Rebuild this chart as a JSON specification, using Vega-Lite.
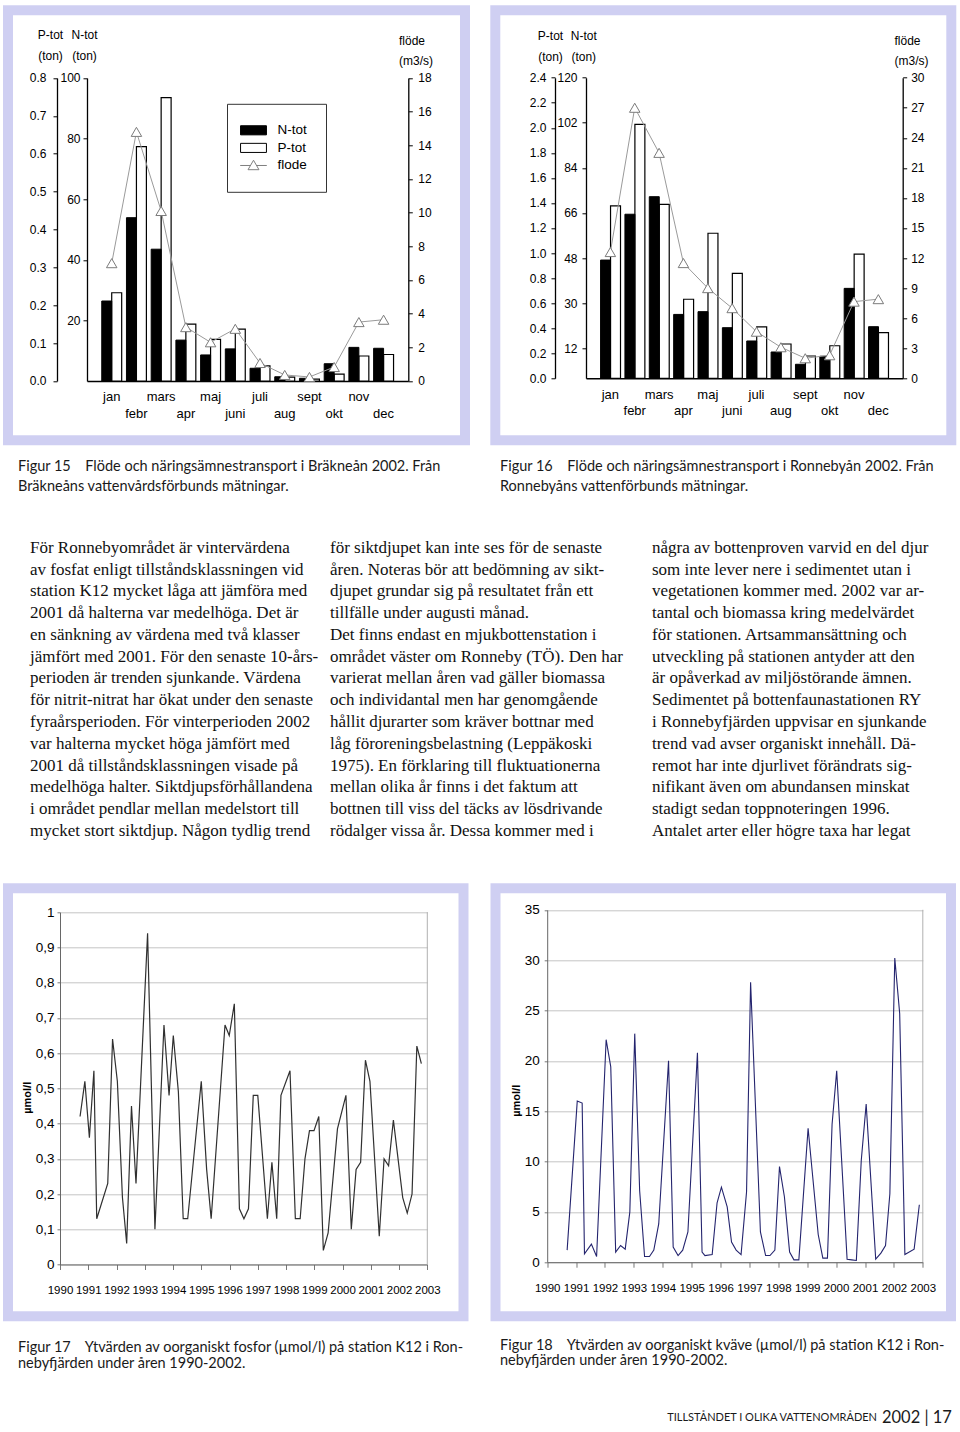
{
  "$schema": "https://vega.github.io/schema/vega-lite/v6.json",
  "padding": {"left": 3, "top": 5.3, "right": 4, "bottom": 4},
  "background": "white",
  "spacing": 0,
  "config": {
    "font": "Liberation Sans",
    "view": {"stroke": null},
    "axis": {"labelFont": "Liberation Sans", "labelFontSize": 12, "labelColor": "black", "domainColor": "black", "tickColor": "black", "domainWidth": 1.3, "tickWidth": 1, "grid": false, "titleFont": "Liberation Sans", "titleColor": "black", "titleFontWeight": "normal", "titleFontSize": 12, "labelOverlap": false}
  },
  "datasets": {
    "f15bars": [
      {"month": "jan", "series": "N-tot", "value": 26.4}, {"month": "jan", "series": "P-tot", "value": 0.233},
      {"month": "febr", "series": "N-tot", "value": 53.9}, {"month": "febr", "series": "P-tot", "value": 0.619},
      {"month": "mars", "series": "N-tot", "value": 43.5}, {"month": "mars", "series": "P-tot", "value": 0.748},
      {"month": "apr", "series": "N-tot", "value": 13.5}, {"month": "apr", "series": "P-tot", "value": 0.15},
      {"month": "maj", "series": "N-tot", "value": 8.6}, {"month": "maj", "series": "P-tot", "value": 0.11},
      {"month": "juni", "series": "N-tot", "value": 10.6}, {"month": "juni", "series": "P-tot", "value": 0.137},
      {"month": "juli", "series": "N-tot", "value": 4.2}, {"month": "juli", "series": "P-tot", "value": 0.04},
      {"month": "aug", "series": "N-tot", "value": 1.4}, {"month": "aug", "series": "P-tot", "value": 0.01},
      {"month": "sept", "series": "N-tot", "value": 0.9}, {"month": "sept", "series": "P-tot", "value": 0.005},
      {"month": "okt", "series": "N-tot", "value": 5.7}, {"month": "okt", "series": "P-tot", "value": 0.018},
      {"month": "nov", "series": "N-tot", "value": 11.1}, {"month": "nov", "series": "P-tot", "value": 0.066},
      {"month": "dec", "series": "N-tot", "value": 10.8}, {"month": "dec", "series": "P-tot", "value": 0.07}
    ],
    "f15flow": [
      {"month": "jan", "flode": 7.0}, {"month": "febr", "flode": 14.8}, {"month": "mars", "flode": 10.1},
      {"month": "apr", "flode": 3.2}, {"month": "maj", "flode": 2.3}, {"month": "juni", "flode": 3.1},
      {"month": "juli", "flode": 1.07}, {"month": "aug", "flode": 0.36}, {"month": "sept", "flode": 0.24},
      {"month": "okt", "flode": 0.83}, {"month": "nov", "flode": 3.5}, {"month": "dec", "flode": 3.64}
    ],
    "f16bars": [
      {"month": "jan", "series": "N-tot", "value": 47.2}, {"month": "jan", "series": "P-tot", "value": 1.376},
      {"month": "febr", "series": "N-tot", "value": 65.5}, {"month": "febr", "series": "P-tot", "value": 2.028},
      {"month": "mars", "series": "N-tot", "value": 72.5}, {"month": "mars", "series": "P-tot", "value": 1.389},
      {"month": "apr", "series": "N-tot", "value": 25.5}, {"month": "apr", "series": "P-tot", "value": 0.631},
      {"month": "maj", "series": "N-tot", "value": 26.6}, {"month": "maj", "series": "P-tot", "value": 1.158},
      {"month": "juni", "series": "N-tot", "value": 20.2}, {"month": "juni", "series": "P-tot", "value": 0.838},
      {"month": "juli", "series": "N-tot", "value": 14.9}, {"month": "juli", "series": "P-tot", "value": 0.41},
      {"month": "aug", "series": "N-tot", "value": 10.5}, {"month": "aug", "series": "P-tot", "value": 0.274},
      {"month": "sept", "series": "N-tot", "value": 5.6}, {"month": "sept", "series": "P-tot", "value": 0.178},
      {"month": "okt", "series": "N-tot", "value": 8.8}, {"month": "okt", "series": "P-tot", "value": 0.26},
      {"month": "nov", "series": "N-tot", "value": 35.9}, {"month": "nov", "series": "P-tot", "value": 0.992},
      {"month": "dec", "series": "N-tot", "value": 20.6}, {"month": "dec", "series": "P-tot", "value": 0.364}
    ],
    "f16flow": [
      {"month": "jan", "flode": 12.6}, {"month": "febr", "flode": 27.0}, {"month": "mars", "flode": 22.5},
      {"month": "apr", "flode": 11.5}, {"month": "maj", "flode": 9.0}, {"month": "juni", "flode": 7.0},
      {"month": "juli", "flode": 4.65}, {"month": "aug", "flode": 3.1}, {"month": "sept", "flode": 2.0},
      {"month": "okt", "flode": 2.3}, {"month": "nov", "flode": 7.65}, {"month": "dec", "flode": 7.9}
    ],
    "legendkeys": [{"series": "N-tot"}, {"series": "P-tot"}, {"series": "flode"}],
    "k12p": [
      {"t": 1990.71, "v": 0.42}, {"t": 1990.88, "v": 0.52}, {"t": 1991.04, "v": 0.36}, {"t": 1991.2, "v": 0.55},
      {"t": 1991.3, "v": 0.13}, {"t": 1991.69, "v": 0.23}, {"t": 1991.86, "v": 0.64}, {"t": 1992.03, "v": 0.52},
      {"t": 1992.21, "v": 0.19}, {"t": 1992.36, "v": 0.06}, {"t": 1992.53, "v": 0.45}, {"t": 1992.69, "v": 0.23},
      {"t": 1993.1, "v": 0.94}, {"t": 1993.36, "v": 0.1}, {"t": 1993.68, "v": 0.68}, {"t": 1993.86, "v": 0.48},
      {"t": 1994.01, "v": 0.65}, {"t": 1994.19, "v": 0.49}, {"t": 1994.36, "v": 0.13}, {"t": 1994.52, "v": 0.13},
      {"t": 1995.0, "v": 0.52}, {"t": 1995.19, "v": 0.27}, {"t": 1995.35, "v": 0.13}, {"t": 1995.84, "v": 0.68},
      {"t": 1995.99, "v": 0.65}, {"t": 1996.17, "v": 0.74}, {"t": 1996.35, "v": 0.158}, {"t": 1996.51, "v": 0.13},
      {"t": 1996.67, "v": 0.158}, {"t": 1996.84, "v": 0.48}, {"t": 1997.0, "v": 0.48}, {"t": 1997.34, "v": 0.13},
      {"t": 1997.5, "v": 0.29}, {"t": 1997.67, "v": 0.13}, {"t": 1997.82, "v": 0.48}, {"t": 1998.14, "v": 0.55},
      {"t": 1998.33, "v": 0.13}, {"t": 1998.5, "v": 0.13}, {"t": 1998.67, "v": 0.3}, {"t": 1998.83, "v": 0.38},
      {"t": 1998.99, "v": 0.38}, {"t": 1999.16, "v": 0.42}, {"t": 1999.32, "v": 0.04}, {"t": 1999.49, "v": 0.09},
      {"t": 1999.82, "v": 0.385}, {"t": 2000.12, "v": 0.48}, {"t": 2000.31, "v": 0.1}, {"t": 2000.48, "v": 0.27},
      {"t": 2000.64, "v": 0.29}, {"t": 2000.81, "v": 0.58}, {"t": 2000.97, "v": 0.52}, {"t": 2001.3, "v": 0.08},
      {"t": 2001.47, "v": 0.3}, {"t": 2001.63, "v": 0.28}, {"t": 2001.8, "v": 0.41}, {"t": 2002.13, "v": 0.19},
      {"t": 2002.29, "v": 0.146}, {"t": 2002.46, "v": 0.2}, {"t": 2002.63, "v": 0.62}, {"t": 2002.79, "v": 0.57}
    ],
    "k12n": [
      {"t": 1990.69, "v": 1.2}, {"t": 1991.04, "v": 16.0}, {"t": 1991.21, "v": 15.8}, {"t": 1991.29, "v": 0.83},
      {"t": 1991.53, "v": 1.8}, {"t": 1991.71, "v": 0.56}, {"t": 1992.04, "v": 22.1}, {"t": 1992.2, "v": 19.4},
      {"t": 1992.37, "v": 1.0}, {"t": 1992.54, "v": 1.66}, {"t": 1992.7, "v": 1.3}, {"t": 1992.86, "v": 5.0},
      {"t": 1993.03, "v": 22.7}, {"t": 1993.2, "v": 7.1}, {"t": 1993.37, "v": 0.56}, {"t": 1993.54, "v": 0.56},
      {"t": 1993.69, "v": 1.2}, {"t": 1993.86, "v": 3.8}, {"t": 1994.2, "v": 20.0}, {"t": 1994.36, "v": 1.5},
      {"t": 1994.53, "v": 0.66}, {"t": 1994.69, "v": 1.2}, {"t": 1994.87, "v": 3.0}, {"t": 1995.2, "v": 20.8},
      {"t": 1995.36, "v": 1.0}, {"t": 1995.46, "v": 0.66}, {"t": 1995.71, "v": 0.76}, {"t": 1995.88, "v": 5.9},
      {"t": 1996.03, "v": 7.45}, {"t": 1996.23, "v": 5.5}, {"t": 1996.38, "v": 2.0}, {"t": 1996.54, "v": 1.2},
      {"t": 1996.71, "v": 0.76}, {"t": 1996.9, "v": 7.0}, {"t": 1997.04, "v": 27.8}, {"t": 1997.38, "v": 3.0},
      {"t": 1997.56, "v": 0.66}, {"t": 1997.71, "v": 0.66}, {"t": 1997.88, "v": 1.2}, {"t": 1998.04, "v": 9.5},
      {"t": 1998.21, "v": 6.5}, {"t": 1998.39, "v": 1.0}, {"t": 1998.54, "v": 0.23}, {"t": 1998.71, "v": 0.23},
      {"t": 1999.03, "v": 13.3}, {"t": 1999.38, "v": 2.75}, {"t": 1999.54, "v": 0.4}, {"t": 1999.7, "v": 0.4},
      {"t": 1999.86, "v": 13.7}, {"t": 2000.02, "v": 19.0}, {"t": 2000.38, "v": 0.3}, {"t": 2000.54, "v": 0.23},
      {"t": 2000.7, "v": 0.17}, {"t": 2000.87, "v": 10.1}, {"t": 2001.04, "v": 15.7}, {"t": 2001.37, "v": 0.3},
      {"t": 2001.55, "v": 0.9}, {"t": 2001.71, "v": 1.66}, {"t": 2001.86, "v": 6.8}, {"t": 2002.03, "v": 30.2},
      {"t": 2002.2, "v": 24.7}, {"t": 2002.38, "v": 0.76}, {"t": 2002.7, "v": 1.3}, {"t": 2002.88, "v": 5.7}
    ],
    "cap15": [
      {"line": 1, "t": "Figur 15\u2003 Flöde och näringsämnestransport i Bräkneån 2002. Från"},
      {"line": 2, "t": "Bräkneåns vattenvårdsförbunds mätningar."}
    ],
    "cap16": [
      {"line": 1, "t": "Figur 16\u2003 Flöde och näringsämnestransport i Ronnebyån 2002. Från"},
      {"line": 2, "t": "Ronnebyåns vattenförbunds mätningar."}
    ],
    "cap17": [
      {"line": 1, "t": "Figur 17\u2003 Ytvärden av oorganiskt fosfor (µmol/l) på station K12 i Ron-"},
      {"line": 2, "t": "nebyfjärden under åren 1990-2002."}
    ],
    "cap18": [
      {"line": 1, "t": "Figur 18\u2003 Ytvärden av oorganiskt kväve (µmol/l) på station K12 i Ron-"},
      {"line": 2, "t": "nebyfjärden under åren 1990-2002."}
    ],
    "body1": [
      {"line": 1, "t": "För Ronnebyområdet är vintervärdena"},
      {"line": 2, "t": "av fosfat enligt tillståndsklassningen vid"},
      {"line": 3, "t": "station K12 mycket låga att jämföra med"},
      {"line": 4, "t": "2001 då halterna var medelhöga. Det är"},
      {"line": 5, "t": "en sänkning av värdena med två klasser"},
      {"line": 6, "t": "jämfört med 2001. För den senaste 10-års-"},
      {"line": 7, "t": "perioden är trenden sjunkande. Värdena"},
      {"line": 8, "t": "för nitrit-nitrat har ökat under den senaste"},
      {"line": 9, "t": "fyraårsperioden. För vinterperioden 2002"},
      {"line": 10, "t": "var halterna mycket höga jämfört med"},
      {"line": 11, "t": "2001 då tillståndsklassningen visade på"},
      {"line": 12, "t": "medelhöga halter. Siktdjupsförhållandena"},
      {"line": 13, "t": "i området pendlar mellan medelstort till"},
      {"line": 14, "t": "mycket stort siktdjup. Någon tydlig trend"}
    ],
    "body2": [
      {"line": 1, "t": "för siktdjupet kan inte ses för de senaste"},
      {"line": 2, "t": "åren. Noteras bör att bedömning av sikt-"},
      {"line": 3, "t": "djupet grundar sig på resultatet från ett"},
      {"line": 4, "t": "tillfälle under augusti månad."},
      {"line": 5, "t": "\u2003Det finns endast en mjukbottenstation i"},
      {"line": 6, "t": "området väster om Ronneby (TÖ). Den har"},
      {"line": 7, "t": "varierat mellan åren vad gäller biomassa"},
      {"line": 8, "t": "och individantal men har genomgående"},
      {"line": 9, "t": "hållit djurarter som kräver bottnar med"},
      {"line": 10, "t": "låg föroreningsbelastning (Leppäkoski"},
      {"line": 11, "t": "1975). En förklaring till fluktuationerna"},
      {"line": 12, "t": "mellan olika år finns i det faktum att"},
      {"line": 13, "t": "bottnen till viss del täcks av lösdrivande"},
      {"line": 14, "t": "rödalger vissa år. Dessa kommer med i"}
    ],
    "body3": [
      {"line": 1, "t": "några av bottenproven varvid en del djur"},
      {"line": 2, "t": "som inte lever nere i sedimentet utan i"},
      {"line": 3, "t": "vegetationen kommer med. 2002 var ar-"},
      {"line": 4, "t": "tantal och biomassa kring medelvärdet"},
      {"line": 5, "t": "för stationen. Artsammansättning och"},
      {"line": 6, "t": "utveckling på stationen antyder att den"},
      {"line": 7, "t": "är opåverkad av miljöstörande ämnen."},
      {"line": 8, "t": "\u2003Sedimentet på bottenfaunastationen RY"},
      {"line": 9, "t": "i Ronnebyfjärden uppvisar en sjunkande"},
      {"line": 10, "t": "trend vad avser organiskt innehåll. Dä-"},
      {"line": 11, "t": "remot har inte djurlivet förändrats sig-"},
      {"line": 12, "t": "nifikant även om abundansen minskat"},
      {"line": 13, "t": "stadigt sedan toppnoteringen 1996."},
      {"line": 14, "t": "Antalet arter eller högre taxa har legat"}
    ]
  },
  "vconcat": [
    {
      "hconcat": [
        {
          "width": 457, "height": 430,
          "view": {"fill": "white", "stroke": "#cfcff2", "strokeWidth": 10},
          "encoding": {
            "x": {"field": "month", "type": "nominal",
              "scale": {"type": "band", "domain": ["jan","febr","mars","apr","maj","juni","juli","aug","sept","okt","nov","dec"], "range": [79, 400.3], "paddingInner": 0, "paddingOuter": 0.5},
              "axis": {"orient": "bottom", "offset": -59.3, "ticks": false, "labelAngle": 0, "labelFontSize": 13, "labelPadding": 10, "labelBaseline": "top", "labelLineHeight": 16.6, "domainWidth": 1.5, "title": null, "labelOverlap": false,
                "labelExpr": "indexof(['febr','apr','juni','aug','okt','dec'], datum.value) >= 0 ? ['', datum.value] : datum.value"}}
          },
          "layer": [
            {
              "data": {"name": "f15bars"},
              "transform": [{"filter": "datum.series == 'P-tot'"}],
              "mark": {"type": "bar", "fill": "white", "stroke": "black", "strokeWidth": 1.2},
              "encoding": {
                "xOffset": {"field": "series", "type": "nominal", "scale": {"domain": ["N-tot", "P-tot"], "paddingInner": 0, "paddingOuter": 0.24}},
                "y": {"field": "value", "type": "quantitative", "scale": {"domain": [0, 0.8], "range": [370.7, 67.7], "nice": false, "zero": false},
                  "axis": {"orient": "left", "offset": -49, "values": [0, 0.1, 0.2, 0.3, 0.4, 0.5, 0.6, 0.7, 0.8], "format": ".1f", "tickSize": 4, "labelPadding": 7, "labelOverlap": false,
                    "title": ["P-tot", "(ton)"], "titleAngle": 0, "titleAlign": "center", "titleBaseline": "top", "titleLineHeight": 21, "titleX": -7, "titleY": 19.5}}
              }
            },
            {
              "data": {"name": "f15bars"},
              "transform": [{"filter": "datum.series == 'N-tot'"}],
              "mark": {"type": "bar", "fill": "black", "stroke": "black", "strokeWidth": 1},
              "encoding": {
                "xOffset": {"field": "series", "type": "nominal", "scale": {"domain": ["N-tot", "P-tot"], "paddingInner": 0, "paddingOuter": 0.24}},
                "y": {"field": "value", "type": "quantitative", "scale": {"domain": [0, 100], "range": [370.7, 67.7], "nice": false, "zero": false},
                  "axis": {"orient": "left", "offset": -79, "values": [20, 40, 60, 80, 100], "format": "d", "tickSize": 4, "labelPadding": 3, "labelOverlap": false,
                    "title": ["N-tot", "(ton)"], "titleAngle": 0, "titleAlign": "center", "titleBaseline": "top", "titleLineHeight": 21, "titleX": -3, "titleY": 19.5}}
              }
            },
            {
              "data": {"name": "f15flow"},
              "layer": [
                {
                  "mark": {"type": "line", "stroke": "#9a9a9a", "strokeWidth": 1},
                  "encoding": {
                    "y": {"field": "flode", "type": "quantitative", "scale": {"domain": [0, 18], "range": [370.7, 67.7], "nice": false, "zero": false},
                      "axis": {"orient": "right", "offset": -56.7, "values": [0, 2, 4, 6, 8, 10, 12, 14, 16, 18], "format": "d", "tickSize": 4, "labelPadding": 5.5, "labelOverlap": false,
                        "title": ["flöde", "(m3/s)"], "titleAngle": 0, "titleAlign": "left", "titleBaseline": "top", "titleLineHeight": 20, "titleX": -9.8, "titleY": 25.5}}
                  }
                },
                {
                  "mark": {"type": "point", "shape": "triangle-up", "size": 110, "filled": true, "fill": "white", "stroke": "#7a7a7a", "strokeWidth": 1, "opacity": 1},
                  "encoding": {"y": {"field": "flode", "type": "quantitative"}}
                }
              ]
            },
            {
              "data": {"name": "legendkeys"},
              "transform": [{"filter": "false"}],
              "mark": {"type": "point", "filled": true},
              "encoding": {
                "shape": {"field": "series", "type": "nominal", "scale": {"domain": ["N-tot", "P-tot", "flode"], "range": ["M-1.85,-0.65H1.85V0.65H-1.85Z", "M-1.85,-0.65H1.85V0.65H-1.85Z", "M-1.9,0H-0.43M0.43,0H1.9M0,-0.75L0.78,0.6H-0.78Z"]},
                  "legend": {"title": null, "orient": "none", "legendX": 219, "legendY": 93.5, "direction": "vertical", "strokeColor": "#333", "fillColor": "white", "padding": 19, "rowPadding": 2.6, "symbolSize": 196, "symbolStrokeWidth": 1, "symbolOpacity": 1, "labelFont": "Liberation Sans", "labelFontSize": 13.5, "labelColor": "black", "labelOffset": 16.5}},
                "fill": {"field": "series", "type": "nominal", "scale": {"domain": ["N-tot", "P-tot", "flode"], "range": ["black", "white", "white"]},
                  "legend": {"title": null, "orient": "none", "legendX": 219, "legendY": 93.5, "direction": "vertical", "strokeColor": "#333", "fillColor": "white", "padding": 19, "rowPadding": 2.6, "symbolSize": 196, "symbolStrokeWidth": 1, "symbolOpacity": 1, "labelFont": "Liberation Sans", "labelFontSize": 13.5, "labelColor": "black", "labelOffset": 16.5}},
                "stroke": {"field": "series", "type": "nominal", "scale": {"domain": ["N-tot", "P-tot", "flode"], "range": ["black", "black", "#808080"]},
                  "legend": {"title": null, "orient": "none", "legendX": 219, "legendY": 93.5, "direction": "vertical", "strokeColor": "#333", "fillColor": "white", "padding": 19, "rowPadding": 2.6, "symbolSize": 196, "symbolStrokeWidth": 1, "symbolOpacity": 1, "labelFont": "Liberation Sans", "labelFontSize": 13.5, "labelColor": "black", "labelOffset": 16.5}}
              }
            }
          ],
          "resolve": {"scale": {"y": "independent"}}
        },
        {
          "width": 456, "height": 430,
          "view": {"fill": "white", "stroke": "#cfcff2", "strokeWidth": 10},
          "encoding": {
            "x": {"field": "month", "type": "nominal",
              "scale": {"type": "band", "domain": ["jan","febr","mars","apr","maj","juni","juli","aug","sept","okt","nov","dec"], "range": [90.7, 407.4], "paddingInner": 0, "paddingOuter": 0.5},
              "axis": {"orient": "bottom", "offset": -62, "ticks": false, "labelAngle": 0, "labelFontSize": 13, "labelPadding": 10, "labelBaseline": "top", "labelLineHeight": 16.6, "domainWidth": 1.5, "title": null, "labelOverlap": false,
                "labelExpr": "indexof(['febr','apr','juni','aug','okt','dec'], datum.value) >= 0 ? ['', datum.value] : datum.value"}}
          },
          "layer": [
            {
              "data": {"name": "f16bars"},
              "transform": [{"filter": "datum.series == 'P-tot'"}],
              "mark": {"type": "bar", "fill": "white", "stroke": "black", "strokeWidth": 1.2},
              "encoding": {
                "xOffset": {"field": "series", "type": "nominal", "scale": {"domain": ["N-tot", "P-tot"], "paddingInner": 0, "paddingOuter": 0.24}},
                "y": {"field": "value", "type": "quantitative", "scale": {"domain": [0, 2.4], "range": [368, 67.4], "nice": false, "zero": false},
                  "axis": {"orient": "left", "offset": -59.7, "values": [0, 0.2, 0.4, 0.6, 0.8, 1, 1.2, 1.4, 1.6, 1.8, 2, 2.2, 2.4], "format": ".1f", "tickSize": 4, "labelPadding": 5, "labelOverlap": false,
                    "title": ["P-tot", "(ton)"], "titleAngle": 0, "titleAlign": "center", "titleBaseline": "top", "titleLineHeight": 21, "titleX": -5, "titleY": 20.2}}
              }
            },
            {
              "data": {"name": "f16bars"},
              "transform": [{"filter": "datum.series == 'N-tot'"}],
              "mark": {"type": "bar", "fill": "black", "stroke": "black", "strokeWidth": 1},
              "encoding": {
                "xOffset": {"field": "series", "type": "nominal", "scale": {"domain": ["N-tot", "P-tot"], "paddingInner": 0, "paddingOuter": 0.24}},
                "y": {"field": "value", "type": "quantitative", "scale": {"domain": [0, 120], "range": [368, 67.4], "nice": false, "zero": false},
                  "axis": {"orient": "left", "offset": -90.7, "values": [12, 30, 48, 66, 84, 102, 120], "format": "d", "tickSize": 4, "labelPadding": 5, "labelOverlap": false,
                    "title": ["N-tot", "(ton)"], "titleAngle": 0, "titleAlign": "center", "titleBaseline": "top", "titleLineHeight": 21, "titleX": -2.7, "titleY": 20.2}}
              }
            },
            {
              "data": {"name": "f16flow"},
              "layer": [
                {
                  "mark": {"type": "line", "stroke": "#9a9a9a", "strokeWidth": 1},
                  "encoding": {
                    "y": {"field": "flode", "type": "quantitative", "scale": {"domain": [0, 30], "range": [368, 67.4], "nice": false, "zero": false},
                      "axis": {"orient": "right", "offset": -48.6, "values": [0, 3, 6, 9, 12, 15, 18, 21, 24, 27, 30], "format": "d", "tickSize": 4, "labelPadding": 4, "labelOverlap": false,
                        "title": ["flöde", "(m3/s)"], "titleAngle": 0, "titleAlign": "left", "titleBaseline": "top", "titleLineHeight": 20, "titleX": -8.7, "titleY": 25.2}}
                  }
                },
                {
                  "mark": {"type": "point", "shape": "triangle-up", "size": 110, "filled": true, "fill": "white", "stroke": "#7a7a7a", "strokeWidth": 1, "opacity": 1},
                  "encoding": {"y": {"field": "flode", "type": "quantitative"}}
                }
              ]
            },
            {
              "data": {"name": "legendkeys"},
              "transform": [{"filter": "false"}],
              "mark": {"type": "point", "filled": true},
              "encoding": {
                "shape": {"field": "series", "type": "nominal", "scale": {"domain": ["N-tot", "P-tot", "flode"], "range": ["M-1.85,-0.65H1.85V0.65H-1.85Z", "M-1.85,-0.65H1.85V0.65H-1.85Z", "M-1.9,0H-0.43M0.43,0H1.9M0,-0.75L0.78,0.6H-0.78Z"]},
                  "legend": {"title": null, "orient": "none", "legendX": 231.7, "legendY": 82, "direction": "vertical", "strokeColor": "#333", "fillColor": "white", "padding": 19, "rowPadding": 2.6, "symbolSize": 196, "symbolStrokeWidth": 1, "symbolOpacity": 1, "labelFont": "Liberation Sans", "labelFontSize": 13.5, "labelColor": "black", "labelOffset": 16.5}},
                "fill": {"field": "series", "type": "nominal", "scale": {"domain": ["N-tot", "P-tot", "flode"], "range": ["black", "white", "white"]},
                  "legend": {"title": null, "orient": "none", "legendX": 231.7, "legendY": 82, "direction": "vertical", "strokeColor": "#333", "fillColor": "white", "padding": 19, "rowPadding": 2.6, "symbolSize": 196, "symbolStrokeWidth": 1, "symbolOpacity": 1, "labelFont": "Liberation Sans", "labelFontSize": 13.5, "labelColor": "black", "labelOffset": 16.5}},
                "stroke": {"field": "series", "type": "nominal", "scale": {"domain": ["N-tot", "P-tot", "flode"], "range": ["black", "black", "#808080"]},
                  "legend": {"title": null, "orient": "none", "legendX": 231.7, "legendY": 82, "direction": "vertical", "strokeColor": "#333", "fillColor": "white", "padding": 19, "rowPadding": 2.6, "symbolSize": 196, "symbolStrokeWidth": 1, "symbolOpacity": 1, "labelFont": "Liberation Sans", "labelFontSize": 13.5, "labelColor": "black", "labelOffset": 16.5}}
              }
            }
          ],
          "resolve": {"scale": {"y": "independent"}}
        }
      ],
      "spacing": 30.3,
      "bounds": "flush"
    },
    {
      "hconcat": [
        {
          "width": 492, "height": 75,
          "data": {"name": "cap15"},
          "mark": {"type": "text", "align": "left", "baseline": "middle", "font": "Lato", "fontSize": 14.5, "color": "#1a1a1a"},
          "encoding": {
            "x": {"datum": 0, "type": "quantitative", "scale": {"domain": [-10, 482], "nice": false, "zero": false}, "axis": null},
            "y": {"field": "line", "type": "quantitative", "scale": {"domain": [-0.085, 3.665], "reverse": true, "nice": false, "zero": false}, "axis": null},
            "text": {"field": "t"}
          }
        },
        {
          "width": 456, "height": 75,
          "data": {"name": "cap16"},
          "mark": {"type": "text", "align": "left", "baseline": "middle", "font": "Lato", "fontSize": 14.5, "color": "#1a1a1a"},
          "encoding": {
            "x": {"datum": 0, "type": "quantitative", "scale": {"domain": [0, 456], "nice": false, "zero": false}, "axis": null},
            "y": {"field": "line", "type": "quantitative", "scale": {"domain": [-0.085, 3.665], "reverse": true, "nice": false, "zero": false}, "axis": null},
            "text": {"field": "t"}
          }
        }
      ],
      "spacing": 0,
      "bounds": "flush"
    },
    {
      "hconcat": [
        {
          "width": 305, "height": 362.5,
          "data": {"name": "body1"},
          "mark": {"type": "text", "align": "left", "baseline": "middle", "font": "Liberation Serif", "fontSize": 17, "color": "#111"},
          "encoding": {
            "x": {"datum": 0, "type": "quantitative", "scale": {"domain": [-22, 283], "nice": false, "zero": false}, "axis": null},
            "y": {"field": "line", "type": "quantitative", "scale": {"domain": [-0.2736, 16.393], "reverse": true, "nice": false, "zero": false}, "axis": null},
            "text": {"field": "t"}
          }
        },
        {
          "width": 322, "height": 362.5,
          "data": {"name": "body2"},
          "mark": {"type": "text", "align": "left", "baseline": "middle", "font": "Liberation Serif", "fontSize": 17, "color": "#111"},
          "encoding": {
            "x": {"datum": 0, "type": "quantitative", "scale": {"domain": [-17, 305], "nice": false, "zero": false}, "axis": null},
            "y": {"field": "line", "type": "quantitative", "scale": {"domain": [-0.2736, 16.393], "reverse": true, "nice": false, "zero": false}, "axis": null},
            "text": {"field": "t"}
          }
        },
        {
          "width": 322, "height": 362.5,
          "data": {"name": "body3"},
          "mark": {"type": "text", "align": "left", "baseline": "middle", "font": "Liberation Serif", "fontSize": 17, "color": "#111"},
          "encoding": {
            "x": {"datum": 0, "type": "quantitative", "scale": {"domain": [-17, 305], "nice": false, "zero": false}, "axis": null},
            "y": {"field": "line", "type": "quantitative", "scale": {"domain": [-0.2736, 16.393], "reverse": true, "nice": false, "zero": false}, "axis": null},
            "text": {"field": "t"}
          }
        }
      ],
      "spacing": 0,
      "bounds": "flush"
    },
    {
      "hconcat": [
        {
          "width": 455.5, "height": 428,
          "view": {"fill": "white", "stroke": "#cfcff2", "strokeWidth": 10},
          "resolve": {"axis": {"x": "independent", "y": "independent"}},
          "layer": [
            {
              "data": {"name": "k12p"},
              "mark": {"type": "line", "stroke": "#303030", "strokeWidth": 1.2},
              "encoding": {
                "x": {"field": "t", "type": "quantitative", "scale": {"domain": [1990, 2003], "range": [52, 419.3], "nice": false, "zero": false},
                  "axis": {"orient": "bottom", "offset": -51.8, "values": [1990, 1991, 1992, 1993, 1994, 1995, 1996, 1997, 1998, 1999, 2000, 2001, 2002, 2003], "format": "d", "labelFlush": false, "labelOverlap": false, "tickSize": 5, "tickColor": "#777", "domainColor": "#666", "domainWidth": 1, "labelFontSize": 11.5, "labelPadding": 15, "title": null}},
                "y": {"field": "v", "type": "quantitative", "scale": {"domain": [0, 1], "range": [376.2, 23.9], "nice": false, "zero": false},
                  "axis": {"orient": "left", "offset": -52, "values": [0, 0.1, 0.2, 0.3, 0.4, 0.5, 0.6, 0.7, 0.8, 0.9, 1], "labelExpr": "replace(format(datum.value, '.1~f'), '.', ',')", "labelOverlap": false, "grid": true, "gridColor": "#c4c4c4", "gridWidth": 1, "tickSize": 3, "tickColor": "#777", "domainColor": "#666", "domainWidth": 1, "labelFontSize": 13.5, "labelPadding": 3,
                    "title": "µmol/l", "titleFontWeight": "bold", "titleFontSize": 11, "titleAngle": -90, "titleAlign": "center", "titleBaseline": "middle", "titleX": -33, "titleY": 209}}
              }
            },
            {
              "data": {"values": [{"edge": "right"}]},
              "mark": {"type": "rule", "stroke": "#b0b0b0", "strokeWidth": 1},
              "encoding": {"x": {"datum": 2003, "type": "quantitative", "axis": null}, "y": {"datum": 0, "type": "quantitative", "axis": null}, "y2": {"datum": 1}}
            }
          ]
        },
        {
          "width": 455.5, "height": 428,
          "view": {"fill": "white", "stroke": "#cfcff2", "strokeWidth": 10},
          "resolve": {"axis": {"x": "independent", "y": "independent"}},
          "layer": [
            {
              "data": {"name": "k12n"},
              "mark": {"type": "line", "stroke": "#24246e", "strokeWidth": 1.1},
              "encoding": {
                "x": {"field": "t", "type": "quantitative", "scale": {"domain": [1990, 2003], "range": [51.7, 427.3], "nice": false, "zero": false},
                  "axis": {"orient": "bottom", "offset": -54.1, "values": [1990, 1991, 1992, 1993, 1994, 1995, 1996, 1997, 1998, 1999, 2000, 2001, 2002, 2003], "format": "d", "labelFlush": false, "labelOverlap": false, "tickSize": 5, "tickColor": "#777", "domainColor": "#666", "domainWidth": 1, "labelFontSize": 11.5, "labelPadding": 15, "title": null}},
                "y": {"field": "v", "type": "quantitative", "scale": {"domain": [0, 35], "range": [373.9, 21.5], "nice": false, "zero": false},
                  "axis": {"orient": "left", "offset": -51.7, "values": [0, 5, 10, 15, 20, 25, 30, 35], "format": "d", "labelOverlap": false, "grid": true, "gridColor": "#c4c4c4", "gridWidth": 1, "tickSize": 3, "tickColor": "#777", "domainColor": "#666", "domainWidth": 1, "labelFontSize": 13.5, "labelPadding": 5,
                    "title": "µmol/l", "titleFontWeight": "bold", "titleFontSize": 11, "titleAngle": -90, "titleAlign": "center", "titleBaseline": "middle", "titleX": -30.7, "titleY": 212}}
              }
            },
            {
              "data": {"values": [{"edge": "right"}]},
              "mark": {"type": "rule", "stroke": "#b0b0b0", "strokeWidth": 1},
              "encoding": {"x": {"datum": 2003, "type": "quantitative", "axis": null}, "y": {"datum": 0, "type": "quantitative", "axis": null}, "y2": {"datum": 35}}
            }
          ]
        }
      ],
      "spacing": 31.5,
      "bounds": "flush"
    },
    {
      "hconcat": [
        {
          "width": 492, "height": 65,
          "data": {"name": "cap17"},
          "mark": {"type": "text", "align": "left", "baseline": "middle", "font": "Lato", "fontSize": 14.5, "color": "#1a1a1a"},
          "encoding": {
            "x": {"datum": 0, "type": "quantitative", "scale": {"domain": [-10, 482], "nice": false, "zero": false}, "axis": null},
            "y": {"field": "line", "type": "quantitative", "scale": {"domain": [-0.755, 3.439], "reverse": true, "nice": false, "zero": false}, "axis": null},
            "text": {"field": "t"}
          }
        },
        {
          "width": 455, "height": 65,
          "data": {"name": "cap18"},
          "mark": {"type": "text", "align": "left", "baseline": "middle", "font": "Lato", "fontSize": 14.5, "color": "#1a1a1a"},
          "encoding": {
            "x": {"datum": 0, "type": "quantitative", "scale": {"domain": [0, 455], "nice": false, "zero": false}, "axis": null},
            "y": {"field": "line", "type": "quantitative", "scale": {"domain": [-0.594, 3.6], "reverse": true, "nice": false, "zero": false}, "axis": null},
            "text": {"field": "t"}
          }
        }
      ],
      "spacing": 0,
      "bounds": "flush"
    },
    {
      "width": 952, "height": 40,
      "layer": [
        {
          "data": {"values": [{"t": "TILLSTÅNDET I OLIKA VATTENOMRÅDEN"}]},
          "mark": {"type": "text", "align": "right", "baseline": "middle", "font": "Lato", "fontSize": 11, "color": "#1a1a1a"},
          "encoding": {
            "x": {"datum": 869, "type": "quantitative", "scale": {"domain": [0, 952], "nice": false, "zero": false}, "axis": null},
            "y": {"datum": 32.2, "type": "quantitative", "scale": {"domain": [0, 40], "reverse": true, "nice": false, "zero": false}, "axis": null},
            "text": {"field": "t"}
          }
        },
        {
          "data": {"values": [{"t": "2002 | 17"}]},
          "mark": {"type": "text", "align": "left", "baseline": "middle", "font": "Lato", "fontSize": 16.5, "color": "#1a1a1a"},
          "encoding": {
            "x": {"datum": 874, "type": "quantitative"},
            "y": {"datum": 32.2, "type": "quantitative"},
            "text": {"field": "t"}
          }
        }
      ]
    }
  ]
}
